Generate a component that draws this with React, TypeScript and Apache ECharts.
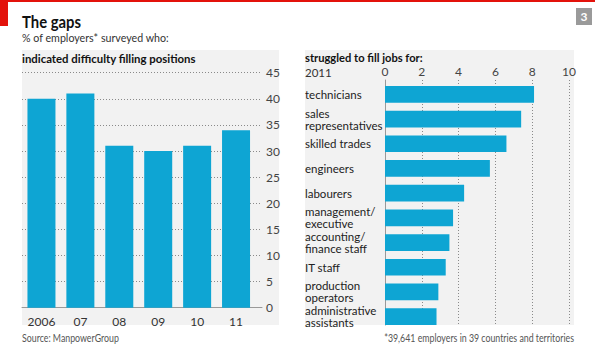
import React, { useEffect, useRef } from "react";
import * as echarts from "echarts";

const years = ["2006", "07", "08", "09", "10", "11"];
const difficultyPct = [40, 41, 31, 30, 31, 34];

const jobCategories = [
  "technicians",
  "sales\nrepresentatives",
  "skilled trades",
  "engineers",
  "labourers",
  "management/\nexecutive",
  "accounting/\nfinance staff",
  "IT staff",
  "production\noperators",
  "administrative\nassistants",
];
const jobValues = [8.1, 7.4, 6.6, 5.7, 4.3, 3.7, 3.5, 3.3, 2.9, 2.8];

const FONT = "Lato, 'Noto Sans', sans-serif";
const BLUE = "#0ea5d3";
const PANEL = "#f2f2f2";
const RED = "#e3120b";

export default function App() {
  const ref = useRef<HTMLDivElement>(null);
  useEffect(() => {
    if (!ref.current) return;
    const chart = echarts.init(ref.current, undefined, { renderer: "svg" });
    const dotted = { color: "#8a8a8a", type: [1, 2] as any, width: 1 };
    const txt = (text: string, x: number, y: number, o: any = {}) => ({
      type: "text",
      x,
      y,
      z: 10,
      scaleX: o.sx || 1,
      style: {
        text,
        fontFamily: FONT,
        fontSize: o.size || 12,
        fontWeight: o.weight || "normal",
        fill: o.fill || "#333",
        align: o.align || "left",
        verticalAlign: "middle",
      },
    });
    chart.setOption({
      animation: false,
      textStyle: { fontFamily: FONT },
      graphic: [
        { type: "rect", z: -100, shape: { x: 0, y: 0, width: 595, height: 2 }, style: { fill: RED } },
        { type: "rect", z: -100, shape: { x: 0, y: 0, width: 8, height: 26 }, style: { fill: RED } },
        { type: "rect", z: -100, shape: { x: 22, y: 50, width: 257, height: 275 }, style: { fill: PANEL } },
        { type: "rect", z: -100, shape: { x: 305, y: 50, width: 269, height: 275 }, style: { fill: PANEL } },
        { type: "rect", z: -100, shape: { x: 576, y: 8, width: 16, height: 17 }, style: { fill: "#9a9a9a" } },
        txt("3", 584, 16.5, { size: 12, weight: "bold", fill: "#fff", align: "center" }),
        txt("The gaps", 22, 21.5, { size: 16.5, weight: "bold", fill: "#111", sx: 0.9 }),
        txt("% of employers* surveyed who:", 22, 37.5, { size: 12, fill: "#333", sx: 0.89 }),
        txt("indicated difficulty filling positions", 22, 57.5, { size: 12, weight: "bold", fill: "#111", sx: 0.95 }),
        txt("struggled to fill jobs for:", 305, 57.5, { size: 12, weight: "bold", fill: "#111", sx: 0.93 }),
        txt("2011", 305, 72, { size: 11.5, fill: "#333" }),
        txt("Source: ManpowerGroup", 22, 338, { size: 11, fill: "#555", sx: 0.8 }),
        txt("*39,641 employers in 39 countries and territories", 574, 338, { size: 11, fill: "#555", align: "right", sx: 0.8 }),
      ],
      grid: [
        { left: 22, top: 72.7, width: 233.5, height: 235 },
        { left: 22, top: 72.7, width: 240, height: 235 },
        { left: 385, top: 82, width: 184, height: 247 },
        { left: 385, top: 80, width: 184, height: 245 },
      ],
      xAxis: [
        {
          gridIndex: 0,
          type: "category",
          data: years,
          axisLine: { show: false },
          axisTick: { show: false },
          axisLabel: { margin: 8, fontSize: 12, color: "#333", fontFamily: FONT },
        },
        {
          gridIndex: 1,
          type: "value",
          min: 0,
          max: 1,
          axisLine: { show: true, lineStyle: { color: "#999", width: 1 } },
          axisTick: { show: false },
          axisLabel: { show: false },
          splitLine: { show: false },
        },
        { gridIndex: 2, type: "value", min: 0, max: 10, show: false },
        {
          gridIndex: 3,
          type: "value",
          position: "top",
          min: 0,
          max: 10,
          interval: 2,
          axisLine: { show: false },
          axisTick: { show: false },
          axisLabel: { margin: 3, fontSize: 12, color: "#444", fontFamily: FONT },
          splitLine: { show: true, lineStyle: dotted },
        },
      ],
      yAxis: [
        { gridIndex: 0, type: "value", min: 0, max: 45, show: false },
        {
          gridIndex: 1,
          type: "value",
          position: "right",
          min: 0,
          max: 45,
          interval: 5,
          axisLine: { show: false },
          axisTick: { show: false },
          axisLabel: { margin: 4, fontSize: 12, color: "#444", fontFamily: FONT },
          splitLine: { show: true, lineStyle: dotted },
        },
        {
          gridIndex: 2,
          type: "category",
          data: jobCategories,
          inverse: true,
          axisLine: { show: false },
          axisTick: { show: false },
          axisLabel: {
            interval: 0,
            margin: 80,
            align: "left",
            fontSize: 11.5,
            lineHeight: 12,
            color: "#222",
            fontFamily: FONT,
          },
        },
        {
          gridIndex: 3,
          type: "value",
          min: 0,
          max: 1,
          axisLine: { show: true, lineStyle: { color: "#999", width: 1 } },
          axisTick: { show: false },
          axisLabel: { show: false },
          splitLine: { show: false },
        },
      ],
      series: [
        {
          type: "bar",
          xAxisIndex: 0,
          yAxisIndex: 0,
          data: difficultyPct,
          barWidth: 28,
          itemStyle: { color: BLUE },
          z: 5,
        },
        {
          type: "bar",
          xAxisIndex: 2,
          yAxisIndex: 2,
          data: jobValues,
          barWidth: 16.7,
          itemStyle: { color: BLUE },
          z: 5,
        },
      ],
    });
    return () => chart.dispose();
  }, []);
  return (
    <div
      ref={ref}
      style={{ position: "absolute", left: 0, top: 0, width: 595, height: 351, background: "#fff" }}
    />
  );
}
